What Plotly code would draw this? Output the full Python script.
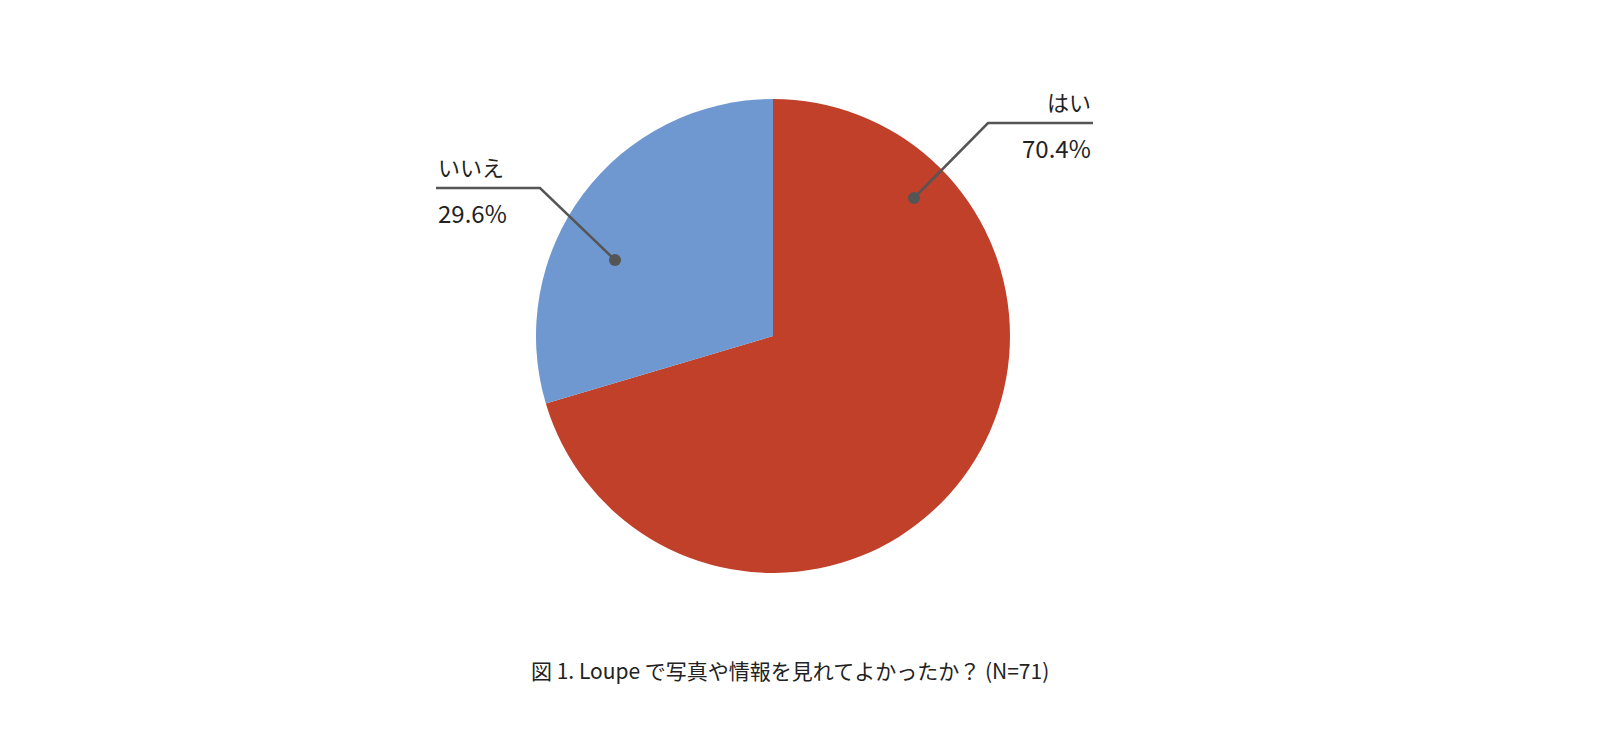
import plotly.graph_objects as go

labels = ["はい", "いいえ"]
values = [70.4, 29.6]
colors = ["#C0402A", "#6E98CF"]
title = "図 1. Loupe で写真や情報を見れてよかったか？ (N=71)"

W, H = 1600, 735
def px(x): return x / W
def py(y): return 1 - y / H

fig = go.Figure(go.Pie(
    labels=labels, values=values, sort=False, direction="clockwise", rotation=0,
    marker=dict(colors=colors), textinfo="none", hoverinfo="label+percent",
    domain=dict(x=[px(765-237), px(765+237)], y=[py(328+237), py(328-237)]),
    showlegend=False,
))

font = dict(family="Noto Sans CJK JP, sans-serif", size=22, color="#222")
shapes, anns = [], []
leaders = [
    # dot, elbow, end, name pos, value pos, anchor
    ((906, 190), (980, 115), (1085, 115), (1085, 93), (1085, 139), "right"),
    ((607, 252), (532, 180), (428, 180), (428, 158), (428, 205), "left"),
]
for i, (d, e, f, npos, vpos, anc) in enumerate(leaders):
    shapes.append(dict(type="path", xref="paper", yref="paper",
        path=f"M {px(d[0])},{py(d[1])} L {px(e[0])},{py(e[1])} L {px(f[0])},{py(f[1])}",
        line=dict(color="#555", width=2.5)))
    shapes.append(dict(type="circle", xref="paper", yref="paper",
        x0=px(d[0]-6), x1=px(d[0]+6), y0=py(d[1]+6), y1=py(d[1]-6),
        fillcolor="#555", line=dict(width=0)))
    anns.append(dict(text=labels[i], x=px(npos[0]), y=py(npos[1]), xref="paper", yref="paper",
        xanchor=anc, yanchor="middle", showarrow=False, font=font))
    anns.append(dict(text=f"{values[i]:.1f}%", x=px(vpos[0]), y=py(vpos[1]), xref="paper", yref="paper",
        xanchor=anc, yanchor="middle", showarrow=False, font=dict(font, size=24)))
anns.append(dict(text=title, x=px(782), y=py(662), xref="paper", yref="paper",
    xanchor="center", yanchor="middle", showarrow=False, font=dict(font, size=21)))

fig.update_layout(width=W, height=H, margin=dict(l=0, r=0, t=0, b=0),
    paper_bgcolor="white", plot_bgcolor="white", shapes=shapes, annotations=anns)
fig.write_html("out.html")
